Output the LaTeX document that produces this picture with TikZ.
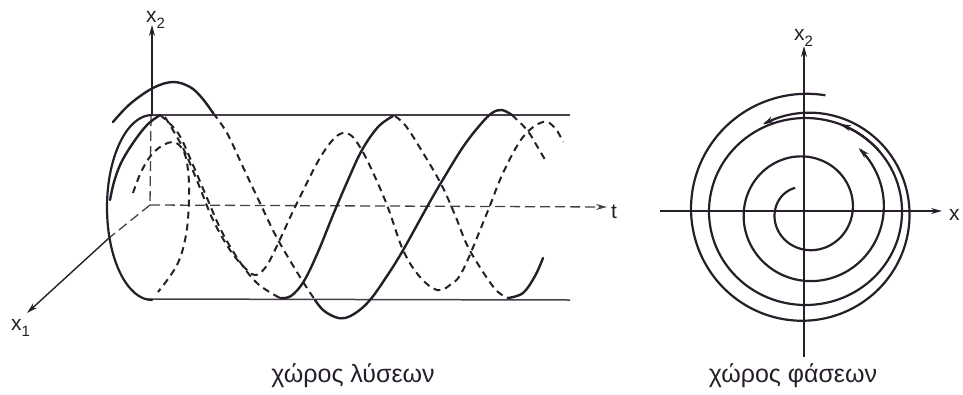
\documentclass[tikz,border=0pt]{standalone}
\usepackage{fontspec}
\setmainfont{Liberation Sans}
\usetikzlibrary{arrows.meta}
\definecolor{ink}{RGB}{38,30,40}
\definecolor{inkl}{RGB}{70,62,72}
\newcommand\lsub[1]{\raisebox{-0.32em}{\fontsize{15}{15}\selectfont #1}}
\begin{document}
\begin{tikzpicture}[x=1pt,y=-1pt,
  solidc/.style={ink,line width=2.4pt,line cap=round,line join=round},
  dashc/.style={ink,line width=2pt,dash pattern=on 7pt off 5pt},
  cyl/.style={inkl,line width=1.5pt},
  axisl/.style={ink,line width=1.4pt},
  axisd/.style={inkl,line width=1.3pt,dash pattern=on 10pt off 5pt},
  tip/.style={-{Stealth[length=11pt,width=6pt]}},
  spir/.style={ink,line width=2.2pt},
  lab/.style={font=\fontsize{21}{21}\selectfont,inner sep=0pt,text=ink},
  captxt/.style={font=\fontsize{25}{30}\selectfont,inner sep=0pt,text=ink}]
\useasboundingbox (0,0) rectangle (963,394);

% ---------- solution space ----------
% axes
\draw[axisl,tip] (152,114) -- (152,25);
\draw[axisd] (151,116) -- (150,205);
\draw[axisd,tip] (150,205) -- (607,207);
\draw[axisd] (150,205) -- (109,238);
\draw[axisl,tip] (109,238) -- (27,313);
\node[lab,anchor=base west] (x2l) at (146,22) {x\lsub{2}};
\node[lab,anchor=base west] (x1l) at (11,330) {x\lsub{1}};
\node[lab,anchor=base west] (tl) at (611,218) {t};

% cylinder
\draw[cyl] (150,115) -- (570,115);
\draw[cyl] (146,299) -- (570,300);
\draw[solidc,line width=2.2pt] (152,115) arc[start angle=270,end angle=90,x radius=45,y radius=92.5];
% dashed arch at the end face
\draw[dashc] plot[smooth,tension=0.6] coordinates {(133,193) (142,170) (155,151) (172,142) (183,150) (188,170) (189,200) (186,235) (177,265) (158,292)};

% curve 1: helix on the cylinder
\draw[solidc] plot[smooth,tension=0.6] coordinates {(110,200) (114,182) (121,163) (133,143) (147,125) (160,115)};
\draw[dashc] plot[smooth,tension=0.6] coordinates {(160,115) (178,133) (193,165) (207,198) (222,232) (240,262) (258,284) (280,298)};
\draw[solidc] plot[smooth,tension=0.6] coordinates {(280,298) (291,296) (304,281) (318,252) (333,215) (348,180) (362,150) (378,127) (393,116)};
\draw[dashc] plot[smooth,tension=0.6] coordinates {(395,116) (405,125) (417,143) (440,182) (455,215) (468,247) (487,278) (498,292) (508,298)};
\draw[solidc] plot[smooth,tension=0.6] coordinates {(508,298) (523,293) (535,276) (543,258)};

% curve 2: outer, approaching the cylinder
\draw[solidc] plot[smooth,tension=0.6] coordinates {(113,122) (130,104) (153,88) (173,82) (190,87) (202,98) (213,113)};
\draw[dashc] plot[smooth,tension=0.6] coordinates {(213,113) (227,133) (243,167) (260,203) (277,238) (300,277) (315,300)};
\draw[solidc] plot[smooth,tension=0.6] coordinates {(315,300) (323,310) (335,317) (345,318) (357,312) (370,300) (385,279) (402,252) (427,207) (442,181) (463,147) (480,125) (492,113) (502,110) (512,115)};
\draw[dashc] plot[smooth,tension=0.6] coordinates {(512,115) (527,130) (537,146) (547,163)};

% curve 3: inner, hidden inside the cylinder
\draw[dashc] plot[smooth,tension=0.6] coordinates {(165,117) (183,148) (198,183) (213,220) (230,250) (244,267) (255,275) (265,268) (275,250) (297,203) (323,153) (343,133) (360,147) (385,200) (403,250) (420,277) (437,290) (450,285) (463,270) (487,213) (503,173) (523,137) (543,122) (555,128) (563,142)};

\node[captxt,anchor=base] (capl) at (353,382) {χώρος λύσεων};

% ---------- phase space ----------
\draw[axisl,tip] (660,211) -- (942,211);
\draw[axisl,tip] (804,357) -- (804,46);
\node[lab,anchor=base west] (xr) at (949,220) {x};
\node[lab,anchor=base west] (x2r) at (794,40) {x\lsub{2}};

% limit cycle
\draw[spir] (805.5,211.5) ellipse[x radius=96.5,y radius=93.5];
\draw[spir,-{Stealth[length=11pt,width=6pt]}]
  plot[domain=40:69,samples=20,smooth] ({805.5+96.5*cos(\x)},{211.5-93.5*sin(\x)});
% inner spiral
\draw[spir,-{Stealth[length=11pt,width=6pt]}]
  plot[domain=115:770,samples=220,smooth] ({806+(25.5+0.0863*(\x-115))*cos(\x)},{211-(25.5+0.0863*(\x-115))*sin(\x)});
% outer spiral
\draw[spir,-{Stealth[length=11pt,width=6pt]}]
  plot[domain=80:476,samples=160,smooth] ({805+(117.5-0.0294*(\x-80)-0.0000556*(\x-80)*(\x-80))*cos(\x)},{211-(117.5-0.0294*(\x-80)-0.0000556*(\x-80)*(\x-80))*sin(\x)});

\node[captxt,anchor=base] (capr) at (793,382) {χώρος φάσεων};
\end{tikzpicture}
\end{document}
